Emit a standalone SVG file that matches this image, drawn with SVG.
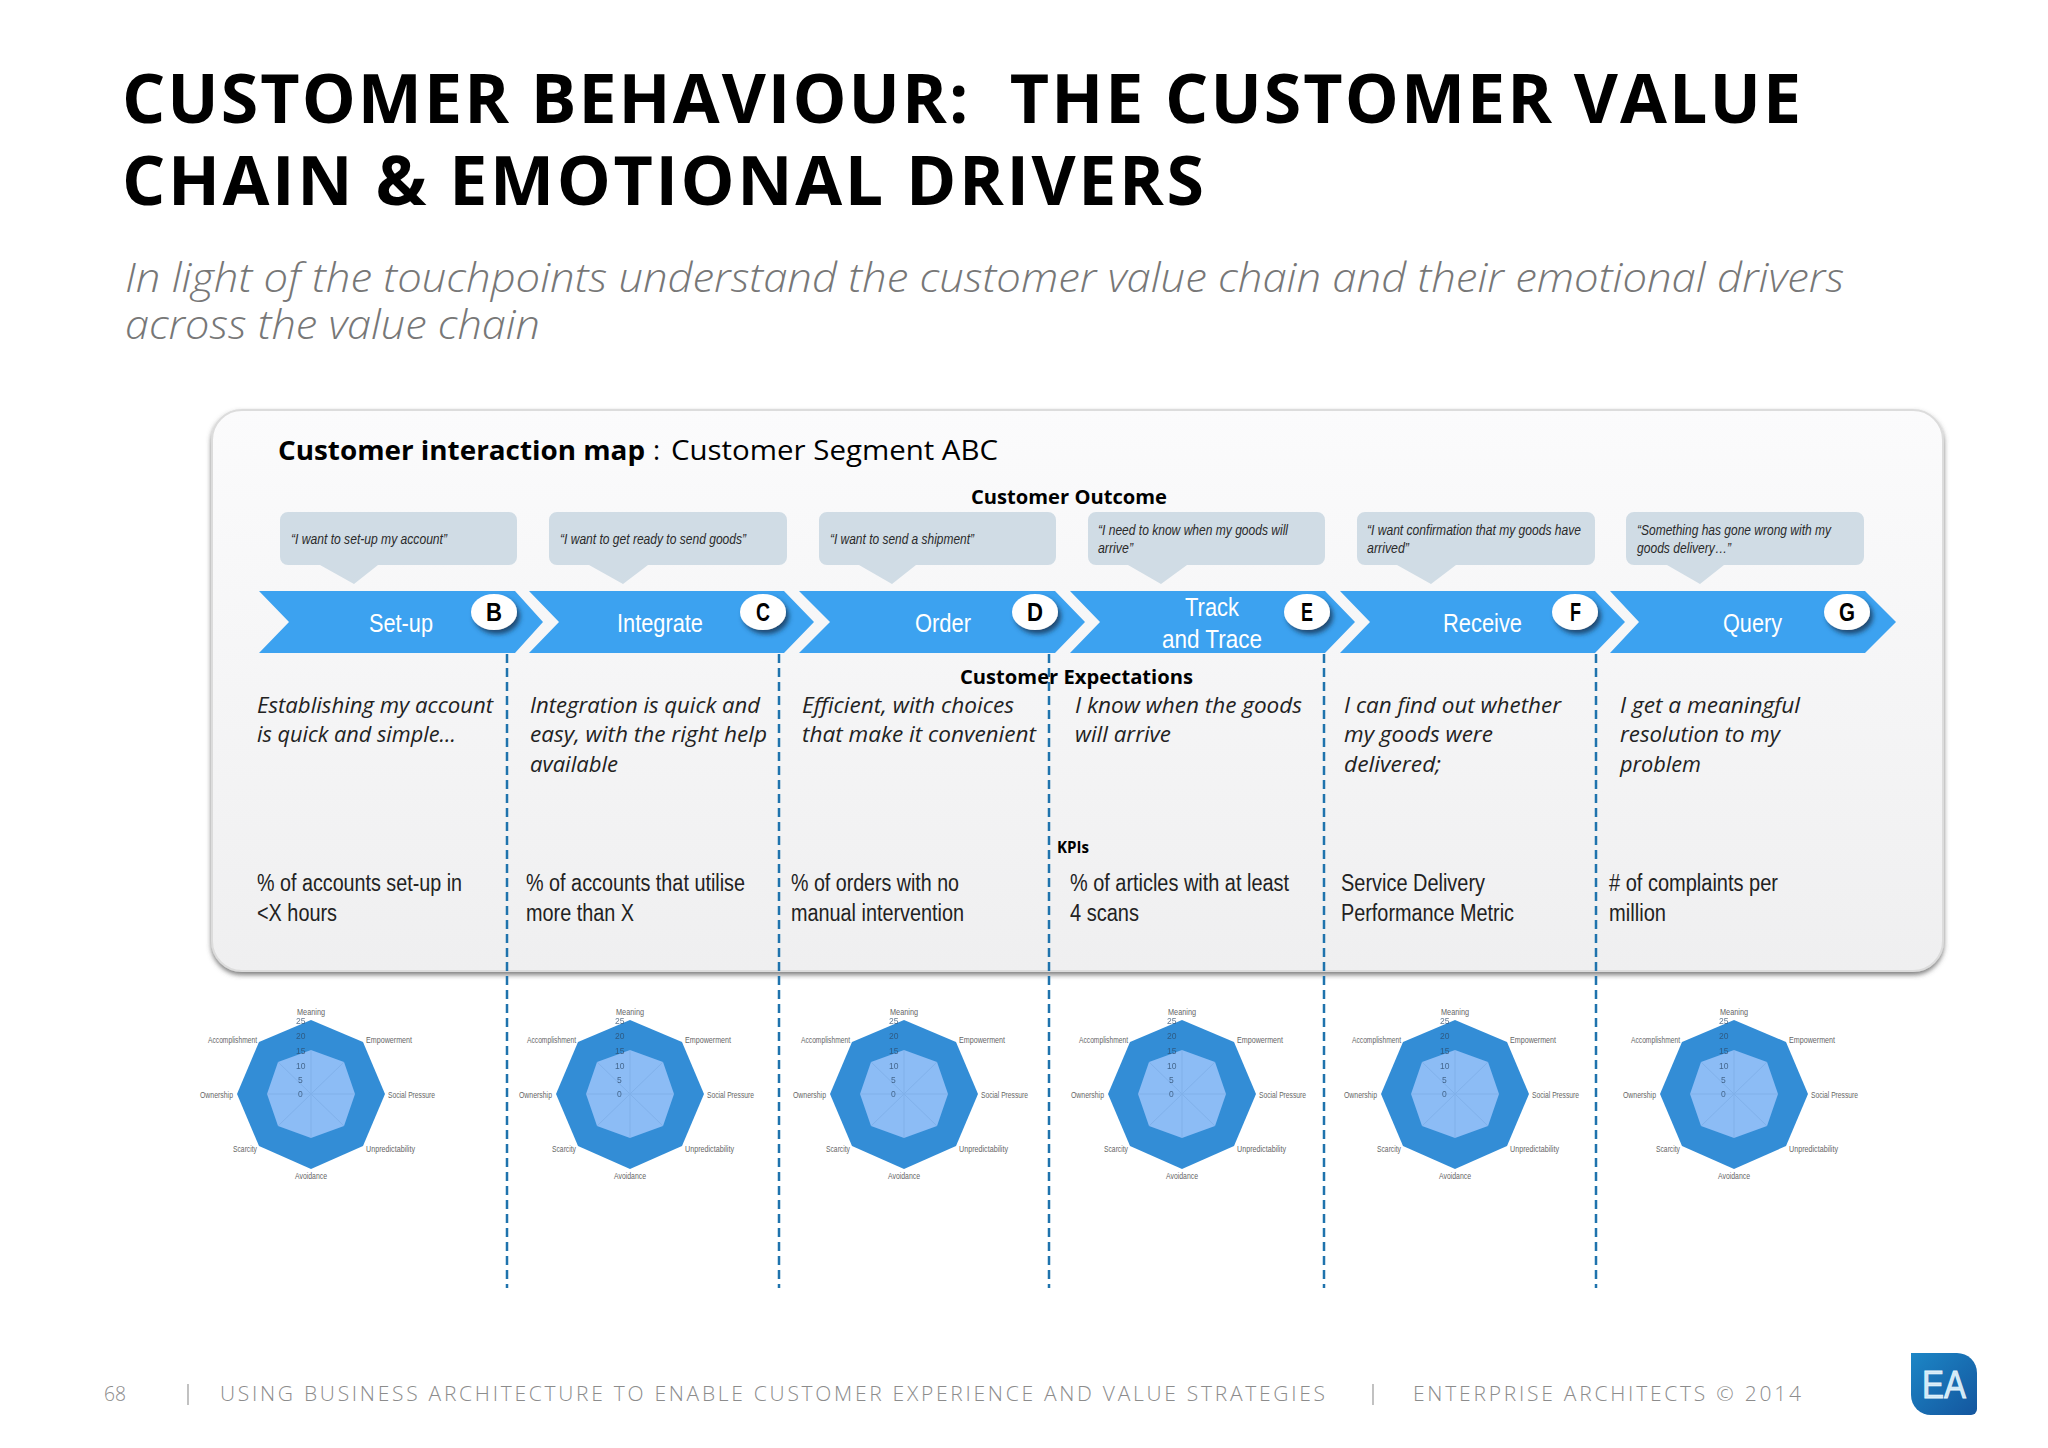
<svg xmlns="http://www.w3.org/2000/svg" width="2048" height="1448" viewBox="0 0 2048 1448">
<style>
text{font-family:"Open Sans","Noto Sans",sans-serif;white-space:pre}
.h{font-size:68px;font-weight:700;fill:#000}
.sub{font-size:40px;font-style:italic;font-weight:300;fill:#777}
.t1{font-size:27px;fill:#000}
.b{font-weight:700}
.head{font-size:20px;font-weight:700;fill:#000}
.body{font-size:21.5px;font-style:italic;fill:#222}
.kpi{font-family:"Liberation Sans",Arial,sans-serif;font-size:23px;fill:#222}
.q{font-family:"Liberation Sans",Arial,sans-serif;font-size:15px;font-style:italic;fill:#2a2a2a}
.st{font-family:"Liberation Sans",Arial,sans-serif;font-size:26px;fill:#fff}
.let{font-family:"Liberation Sans",Arial,sans-serif;font-size:25px;font-weight:700;fill:#000}
.foot{font-size:21px;font-weight:300;fill:#8c8c8c}
.chev{fill:#3ca2f0}
.call{fill:#d0dce5}
.circ{fill:#fff;filter:url(#cs)}
.dash{stroke:#1f73ad;stroke-width:2.5;stroke-dasharray:9 5;fill:none}
.rl{font-family:"Liberation Sans",Arial,sans-serif;font-size:9px;fill:#666}
.rt{font-family:"Liberation Sans",Arial,sans-serif;font-size:8.5px;fill:#2c4a6a;opacity:.75}
.spoke{stroke:#6f9fd8;stroke-width:1;opacity:.4}
</style>
<defs>
<linearGradient id="pg" x1="0" y1="0" x2="0" y2="1"><stop offset="0" stop-color="#fbfbfc"/><stop offset="1" stop-color="#efeff0"/></linearGradient>
<linearGradient id="ea" x1="0" y1="0" x2="1" y2="1"><stop offset="0" stop-color="#1c86c6"/><stop offset="1" stop-color="#14569e"/></linearGradient>
<filter id="ps" x="-3%" y="-3%" width="106%" height="108%"><feDropShadow dx="0" dy="3" stdDeviation="2.5" flood-color="#555" flood-opacity=".75"/></filter>
<filter id="cs" x="-30%" y="-30%" width="170%" height="170%"><feDropShadow dx="3" dy="4" stdDeviation="2.5" flood-color="#123a5c" flood-opacity=".85"/></filter>
<g id="radar">
<polygon points="0,-74 52,-52 74,0 52,52 0,75 -52,52 -74,0 -52,-52" fill="#338dd6"/>
<polygon points="0,-44 33,-32 44,0 33,32 0,44 -33,32 -44,0 -33,-32" fill="#8cbcf5"/>
<path class="spoke" d="M0-44V44M-44,0H44M-33-32L33,32M33-32L-33,32"/>
<text class="rl" x="-14" y="-79" textLength="28" lengthAdjust="spacingAndGlyphs">Meaning</text>
<text class="rl" x="55" y="-51" textLength="46" lengthAdjust="spacingAndGlyphs">Empowerment</text>
<text class="rl" x="77" y="4" textLength="47" lengthAdjust="spacingAndGlyphs">Social Pressure</text>
<text class="rl" x="55" y="58" textLength="49" lengthAdjust="spacingAndGlyphs">Unpredictability</text>
<text class="rl" x="-16" y="85" textLength="32" lengthAdjust="spacingAndGlyphs">Avoidance</text>
<text class="rl" x="-78" y="58" textLength="24" lengthAdjust="spacingAndGlyphs">Scarcity</text>
<text class="rl" x="-111" y="4" textLength="33" lengthAdjust="spacingAndGlyphs">Ownership</text>
<text class="rl" x="-103" y="-51" textLength="49" lengthAdjust="spacingAndGlyphs">Accomplishment</text>
<text class="rt" x="-15" y="-70">25</text><text class="rt" x="-15" y="-55">20</text><text class="rt" x="-15" y="-40">15</text><text class="rt" x="-15" y="-25">10</text><text class="rt" x="-13" y="-11">5</text><text class="rt" x="-13" y="3">0</text>
</g>
</defs>
<rect width="2048" height="1448" fill="#fff"/>

<g id="title" transform="translate(0,1)">
<text class="h" x="122" y="122" textLength="1679">CUSTOMER BEHAVIOUR:  THE CUSTOMER VALUE</text>
<text class="h" x="122" y="204" textLength="1082">CHAIN &amp; EMOTIONAL DRIVERS</text>
<text class="sub" x="125" y="291" textLength="1719" lengthAdjust="spacingAndGlyphs">In light of the touchpoints understand the customer value chain and their emotional drivers</text>
<text class="sub" x="125" y="338" textLength="415" lengthAdjust="spacingAndGlyphs">across the value chain</text>
</g>

<g id="panel">
<rect x="212" y="410" width="1731" height="561" rx="30" fill="url(#pg)" stroke="#dcdcdc" stroke-width="2" filter="url(#ps)"/>
<g transform="translate(0,1)">
<text class="t1 b" x="278" y="459" textLength="367" lengthAdjust="spacingAndGlyphs">Customer interaction map</text>
<text class="t1" x="653" y="459">:</text>
<text class="t1" x="671" y="459" textLength="327" lengthAdjust="spacingAndGlyphs">Customer Segment ABC</text>
<text class="head" x="971" y="503" textLength="196" lengthAdjust="spacingAndGlyphs">Customer Outcome</text>
<text class="head" x="960" y="683" textLength="233" lengthAdjust="spacingAndGlyphs">Customer Expectations</text>
<text class="head" style="font-size:16px" x="1057" y="852" textLength="32" lengthAdjust="spacingAndGlyphs">KPIs</text>
</g>
</g>

<g id="step-b" transform="translate(0,1)">
<path class="call" d="M288,511H509a8,8 0 0 1 8,8V556a8,8 0 0 1-8,8H378L354,583L320,564H288a8,8 0 0 1-8-8V519a8,8 0 0 1 8-8Z"/>
<text class="q" x="291" y="543" textLength="156" lengthAdjust="spacingAndGlyphs">“I want to set-up my account”</text>
<polygon class="chev" points="259,590 515,590 543,621 515,652 259,652 289,621"/>
<text class="st" x="369" y="631" textLength="64" lengthAdjust="spacingAndGlyphs">Set-up</text>
<ellipse class="circ" cx="494" cy="611" rx="23" ry="18"/>
<text class="let" x="486" y="620" textLength="16" lengthAdjust="spacingAndGlyphs">B</text>
<text class="body" x="257" y="712" textLength="236" lengthAdjust="spacingAndGlyphs">Establishing my account</text>
<text class="body" x="257" y="741" textLength="199" lengthAdjust="spacingAndGlyphs">is quick and simple…</text>
<text class="kpi" x="257" y="890" textLength="205" lengthAdjust="spacingAndGlyphs">% of accounts set-up in</text>
<text class="kpi" x="257" y="920" textLength="80" lengthAdjust="spacingAndGlyphs">&lt;X hours</text>
<use href="#radar" x="311" y="1093"/>
</g>

<g id="step-c" transform="translate(0,1)">
<path class="call" d="M557,511H779a8,8 0 0 1 8,8V556a8,8 0 0 1-8,8H648L623,583L589,564H557a8,8 0 0 1-8-8V519a8,8 0 0 1 8-8Z"/>
<text class="q" x="560" y="543" textLength="186" lengthAdjust="spacingAndGlyphs">“I want to get ready to send goods”</text>
<polygon class="chev" points="529,590 784,590 814,621 784,652 529,652 559,621"/>
<text class="st" x="617" y="631" textLength="86" lengthAdjust="spacingAndGlyphs">Integrate</text>
<ellipse class="circ" cx="763" cy="611" rx="23" ry="18"/>
<text class="let" x="756" y="620" textLength="14" lengthAdjust="spacingAndGlyphs">C</text>
<text class="body" x="530" y="712" textLength="230" lengthAdjust="spacingAndGlyphs">Integration is quick and</text>
<text class="body" x="530" y="741" textLength="237" lengthAdjust="spacingAndGlyphs">easy, with the right help</text>
<text class="body" x="530" y="771" textLength="88" lengthAdjust="spacingAndGlyphs">available</text>
<text class="kpi" x="526" y="890" textLength="219" lengthAdjust="spacingAndGlyphs">% of accounts that utilise</text>
<text class="kpi" x="526" y="920" textLength="108" lengthAdjust="spacingAndGlyphs">more than X</text>
<use href="#radar" x="630" y="1093"/>
</g>

<g id="step-d" transform="translate(0,1)">
<path class="call" d="M827,511H1048a8,8 0 0 1 8,8V556a8,8 0 0 1-8,8H916L892,583L859,564H827a8,8 0 0 1-8-8V519a8,8 0 0 1 8-8Z"/>
<text class="q" x="830" y="543" textLength="144" lengthAdjust="spacingAndGlyphs">“I want to send a shipment”</text>
<polygon class="chev" points="799,590 1055,590 1085,621 1055,652 799,652 830,621"/>
<text class="st" x="915" y="631" textLength="56" lengthAdjust="spacingAndGlyphs">Order</text>
<ellipse class="circ" cx="1035" cy="611" rx="23" ry="18"/>
<text class="let" x="1027" y="620" textLength="16" lengthAdjust="spacingAndGlyphs">D</text>
<text class="body" x="802" y="712" textLength="212" lengthAdjust="spacingAndGlyphs">Efficient, with choices</text>
<text class="body" x="802" y="741" textLength="234" lengthAdjust="spacingAndGlyphs">that make it convenient</text>
<text class="kpi" x="791" y="890" textLength="168" lengthAdjust="spacingAndGlyphs">% of orders with no</text>
<text class="kpi" x="791" y="920" textLength="173" lengthAdjust="spacingAndGlyphs">manual intervention</text>
<use href="#radar" x="904" y="1093"/>
</g>

<g id="step-e" transform="translate(0,1)">
<path class="call" d="M1096,511H1317a8,8 0 0 1 8,8V556a8,8 0 0 1-8,8H1187L1161,583L1128,564H1096a8,8 0 0 1-8-8V519a8,8 0 0 1 8-8Z"/>
<text class="q" x="1098" y="534" textLength="190" lengthAdjust="spacingAndGlyphs">“I need to know when my goods will</text>
<text class="q" x="1098" y="552" textLength="35" lengthAdjust="spacingAndGlyphs">arrive”</text>
<polygon class="chev" points="1070,590 1325,590 1355,621 1325,652 1070,652 1100,621"/>
<text class="st" x="1185" y="615" textLength="54" lengthAdjust="spacingAndGlyphs">Track</text>
<text class="st" x="1162" y="647" textLength="100" lengthAdjust="spacingAndGlyphs">and Trace</text>
<ellipse class="circ" cx="1307" cy="611" rx="23" ry="18"/>
<text class="let" x="1301" y="620" textLength="12" lengthAdjust="spacingAndGlyphs">E</text>
<text class="body" x="1075" y="712" textLength="227" lengthAdjust="spacingAndGlyphs">I know when the goods</text>
<text class="body" x="1075" y="741" textLength="96" lengthAdjust="spacingAndGlyphs">will arrive</text>
<text class="kpi" x="1070" y="890" textLength="219" lengthAdjust="spacingAndGlyphs">% of articles with at least</text>
<text class="kpi" x="1070" y="920" textLength="69" lengthAdjust="spacingAndGlyphs">4 scans</text>
<use href="#radar" x="1182" y="1093"/>
</g>

<g id="step-f" transform="translate(0,1)">
<path class="call" d="M1365,511H1587a8,8 0 0 1 8,8V556a8,8 0 0 1-8,8H1456L1431,583L1397,564H1365a8,8 0 0 1-8-8V519a8,8 0 0 1 8-8Z"/>
<text class="q" x="1367" y="534" textLength="214" lengthAdjust="spacingAndGlyphs">“I want confirmation that my goods have</text>
<text class="q" x="1367" y="552" textLength="42" lengthAdjust="spacingAndGlyphs">arrived”</text>
<polygon class="chev" points="1340,590 1595,590 1625,621 1595,652 1340,652 1370,621"/>
<text class="st" x="1443" y="631" textLength="79" lengthAdjust="spacingAndGlyphs">Receive</text>
<ellipse class="circ" cx="1575" cy="611" rx="23" ry="18"/>
<text class="let" x="1570" y="620" textLength="11" lengthAdjust="spacingAndGlyphs">F</text>
<text class="body" x="1344" y="712" textLength="217" lengthAdjust="spacingAndGlyphs">I can find out whether</text>
<text class="body" x="1344" y="741" textLength="149" lengthAdjust="spacingAndGlyphs">my goods were</text>
<text class="body" x="1344" y="771" textLength="97" lengthAdjust="spacingAndGlyphs">delivered;</text>
<text class="kpi" x="1341" y="890" textLength="144" lengthAdjust="spacingAndGlyphs">Service Delivery</text>
<text class="kpi" x="1341" y="920" textLength="173" lengthAdjust="spacingAndGlyphs">Performance Metric</text>
<use href="#radar" x="1455" y="1093"/>
</g>

<g id="step-g" transform="translate(0,1)">
<path class="call" d="M1634,511H1856a8,8 0 0 1 8,8V556a8,8 0 0 1-8,8H1724L1700,583L1667,564H1634a8,8 0 0 1-8-8V519a8,8 0 0 1 8-8Z"/>
<text class="q" x="1637" y="534" textLength="194" lengthAdjust="spacingAndGlyphs">“Something has gone wrong with my</text>
<text class="q" x="1637" y="552" textLength="94" lengthAdjust="spacingAndGlyphs">goods delivery…”</text>
<polygon class="chev" points="1610,590 1865,590 1896,621 1865,652 1610,652 1639,621"/>
<text class="st" x="1723" y="631" textLength="59" lengthAdjust="spacingAndGlyphs">Query</text>
<ellipse class="circ" cx="1847" cy="611" rx="23" ry="18"/>
<text class="let" x="1839" y="620" textLength="16" lengthAdjust="spacingAndGlyphs">G</text>
<text class="body" x="1620" y="712" textLength="180" lengthAdjust="spacingAndGlyphs">I get a meaningful</text>
<text class="body" x="1620" y="741" textLength="160" lengthAdjust="spacingAndGlyphs">resolution to my</text>
<text class="body" x="1620" y="771" textLength="81" lengthAdjust="spacingAndGlyphs">problem</text>
<text class="kpi" x="1609" y="890" textLength="169" lengthAdjust="spacingAndGlyphs"># of complaints per</text>
<text class="kpi" x="1609" y="920" textLength="57" lengthAdjust="spacingAndGlyphs">million</text>
<use href="#radar" x="1734" y="1093"/>
</g>

<g id="connectors">
<path class="dash" d="M507,654V1288"/>
<path class="dash" d="M779,654V1288"/>
<path class="dash" d="M1049,654V1288"/>
<path class="dash" d="M1324,654V1288"/>
<path class="dash" d="M1596,654V1288"/>
</g>

<g id="footer" transform="translate(0,1)">
<text class="foot" x="104" y="1400" textLength="22" lengthAdjust="spacingAndGlyphs">68</text>
<path d="M188,1383V1404M1373,1383V1404" stroke="#999" stroke-width="1.2"/>
<text class="foot" x="220" y="1400" textLength="1105">USING BUSINESS ARCHITECTURE TO ENABLE CUSTOMER EXPERIENCE AND VALUE STRATEGIES</text>
<text class="foot" x="1413" y="1400" textLength="388">ENTERPRISE ARCHITECTS © 2014</text>
</g>

<g id="logo">
<path d="M1911,1353H1957a20,20 0 0 1 20,20V1409a6,6 0 0 1-6,6H1931a20,20 0 0 1-20-20Z" fill="url(#ea)"/>
<text x="1922" y="1398" textLength="44" lengthAdjust="spacingAndGlyphs" style="font-family:'Liberation Sans',Arial,sans-serif;font-size:38px;fill:#cfe9f7;stroke:#e8f5fb;stroke-width:.8">EA</text>
</g>
</svg>
